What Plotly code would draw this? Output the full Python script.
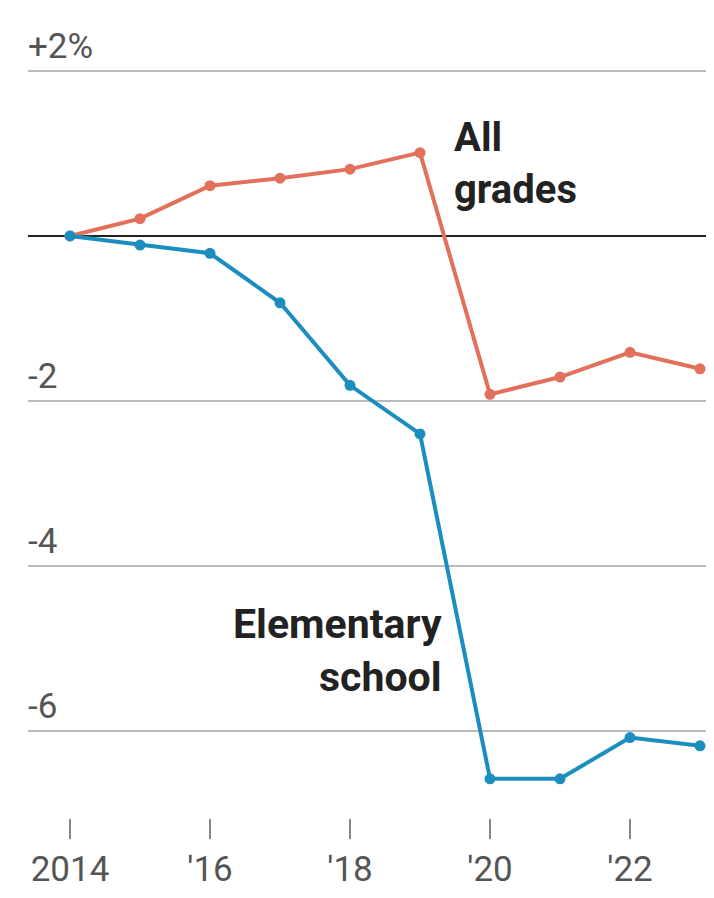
import plotly.graph_objects as go

years = [2014, 2015, 2016, 2017, 2018, 2019, 2020, 2021, 2022, 2023]
all_grades = [0, 0.21, 0.61, 0.70, 0.81, 1.01, -1.92, -1.71, -1.41, -1.61]
elementary = [0, -0.11, -0.21, -0.81, -1.81, -2.40, -6.58, -6.58, -6.08, -6.18]

x_tick_vals = [2014, 2016, 2018, 2020, 2022]
x_tick_text = ["2014", "'16", "'18", "'20", "'22"]
y_tick_vals = [2, -2, -4, -6]
y_tick_text = ["+2%", "-2", "-4", "-6"]

RED = "#e2705a"
BLUE = "#1b8dbf"
LABEL_FONT = "Roboto, Arial, sans-serif"
TICK_FONT = "Roboto, Arial, sans-serif"

fig = go.Figure()

fig.add_trace(go.Scatter(
    x=years, y=all_grades, mode="lines+markers",
    line=dict(color=RED, width=4),
    marker=dict(color=RED, size=11),
    showlegend=False, hoverinfo="skip"))

fig.add_trace(go.Scatter(
    x=years, y=elementary, mode="lines+markers",
    line=dict(color=BLUE, width=4),
    marker=dict(color=BLUE, size=11),
    showlegend=False, hoverinfo="skip"))

annotations = []
for v, t in zip(y_tick_vals, y_tick_text):
    annotations.append(dict(
        x=0, xref="paper", y=v, yref="y", text=t, showarrow=False,
        xanchor="left", yanchor="bottom", yshift=2, xshift=-2,
        font=dict(family=TICK_FONT, size=35, color="#555555")))

annotations.append(dict(
    x=2019.46, y=0.88, xref="x", yref="y",
    text="<b>All<br>grades</b>", showarrow=False, align="left",
    xanchor="left", yanchor="middle",
    font=dict(family=LABEL_FONT, size=40, color="#222222")))

annotations.append(dict(
    x=2019.34, y=-5.03, xref="x", yref="y",
    text="<b>Elementary<br>school</b>", showarrow=False, align="right",
    xanchor="right", yanchor="middle",
    font=dict(family=LABEL_FONT, size=41, color="#222222")))

fig.update_layout(
    width=714, height=898,
    margin=dict(l=20, r=14, t=52, b=88),
    paper_bgcolor="white", plot_bgcolor="white",
    annotations=annotations,
    xaxis=dict(
        range=[2013.4, 2023.114],
        tickvals=x_tick_vals, ticktext=x_tick_text,
        ticks="outside", ticklen=20, tickwidth=1.5, tickcolor="#888888",
        showgrid=False, showline=False, zeroline=False,
        tickfont=dict(family=TICK_FONT, size=35, color="#555555"),
    ),
    yaxis=dict(
        range=[-7.055, 2.133],
        tickvals=y_tick_vals, showticklabels=False,
        showgrid=True, gridcolor="#bbbbbb", gridwidth=2,
        zeroline=True, zerolinecolor="#222222", zerolinewidth=2,
        showline=False,
    ),
)

fig.write_html("out.html")
